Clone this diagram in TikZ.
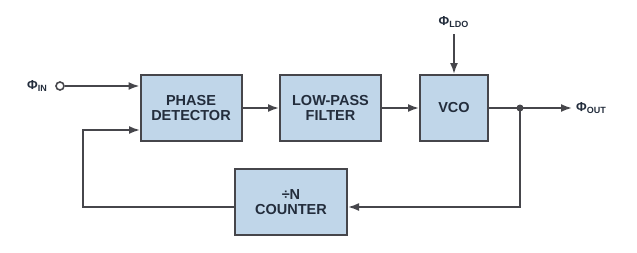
\documentclass[tikz,border=0pt]{standalone}
\usepackage{fontspec}
\setmainfont{Liberation Sans}
\usetikzlibrary{arrows.meta}
\definecolor{boxfill}{RGB}{192,214,233}
\definecolor{edge}{RGB}{70,70,75}
\definecolor{txt}{RGB}{35,45,60}
\begin{document}
\begin{tikzpicture}[x=1pt,y=-1pt,
  blk/.style={draw=edge,line width=2pt,fill=boxfill,inner sep=0pt,
    font=\fontsize{14.5}{15}\selectfont\bfseries,text=txt,align=center},
  conn/.style={draw=edge,line width=1.8pt},
  arr/.style={conn,-{Latex[length=11pt,width=8pt]}},
  lbl/.style={font=\fontsize{13}{14}\selectfont\bfseries,text=txt,inner sep=0pt}]
\useasboundingbox (0,0) rectangle (637,252);
\node[blk,minimum width=101pt,minimum height=66pt] (pd) at (191,108) {PHASE\\DETECTOR};
\node[blk,minimum width=101pt,minimum height=66pt] (lpf) at (330.5,108) {LOW-PASS\\FILTER};
\node[blk,minimum width=68pt,minimum height=66pt] (vco) at (454,108) {VCO};
\node[blk,minimum width=112pt,minimum height=66pt] (cnt) at (291,202) {÷N\\COUNTER};
\node[lbl,anchor=west] (in) at (27,86) {Φ\raisebox{-0.35ex}{\fontsize{9}{9}\selectfont IN}};
\node[draw=edge,line width=1.6pt,circle,minimum size=8pt,inner sep=0pt] (inc) at (60,86) {};
\node[lbl,anchor=west] (out) at (576,108) {Φ\raisebox{-0.35ex}{\fontsize{9}{9}\selectfont OUT}};
\node[lbl] (ldo) at (453.5,22) {Φ\raisebox{-0.35ex}{\fontsize{9}{9}\selectfont LDO}};
\coordinate (j) at (520,108);
\coordinate (pdin1) at (pd.west |- inc);
\coordinate (pdin2) at (140,130);
\coordinate (bl) at (83,207);
\coordinate (tl) at (83,130);
\coordinate (br) at (520,207);
\coordinate (cntr) at (cnt.east |- br);
\coordinate (cntl) at (cnt.west |- bl);
\coordinate (ldoa) at (454,34);
\coordinate (outa) at (572,108);
\draw[arr] (inc) -- (pdin1);
\draw[arr] (pd) -- (lpf);
\draw[arr] (lpf) -- (vco);
\draw[arr] (ldoa) -- (vco.north);
\draw[arr] (vco) -- (outa);
\draw[arr] (j) -- (br) -- (cntr);
\draw[arr] (cntl) -- (bl) -- (tl) -- (pdin2);
\fill[edge] (j) circle (3.5pt);
\end{tikzpicture}
\end{document}
